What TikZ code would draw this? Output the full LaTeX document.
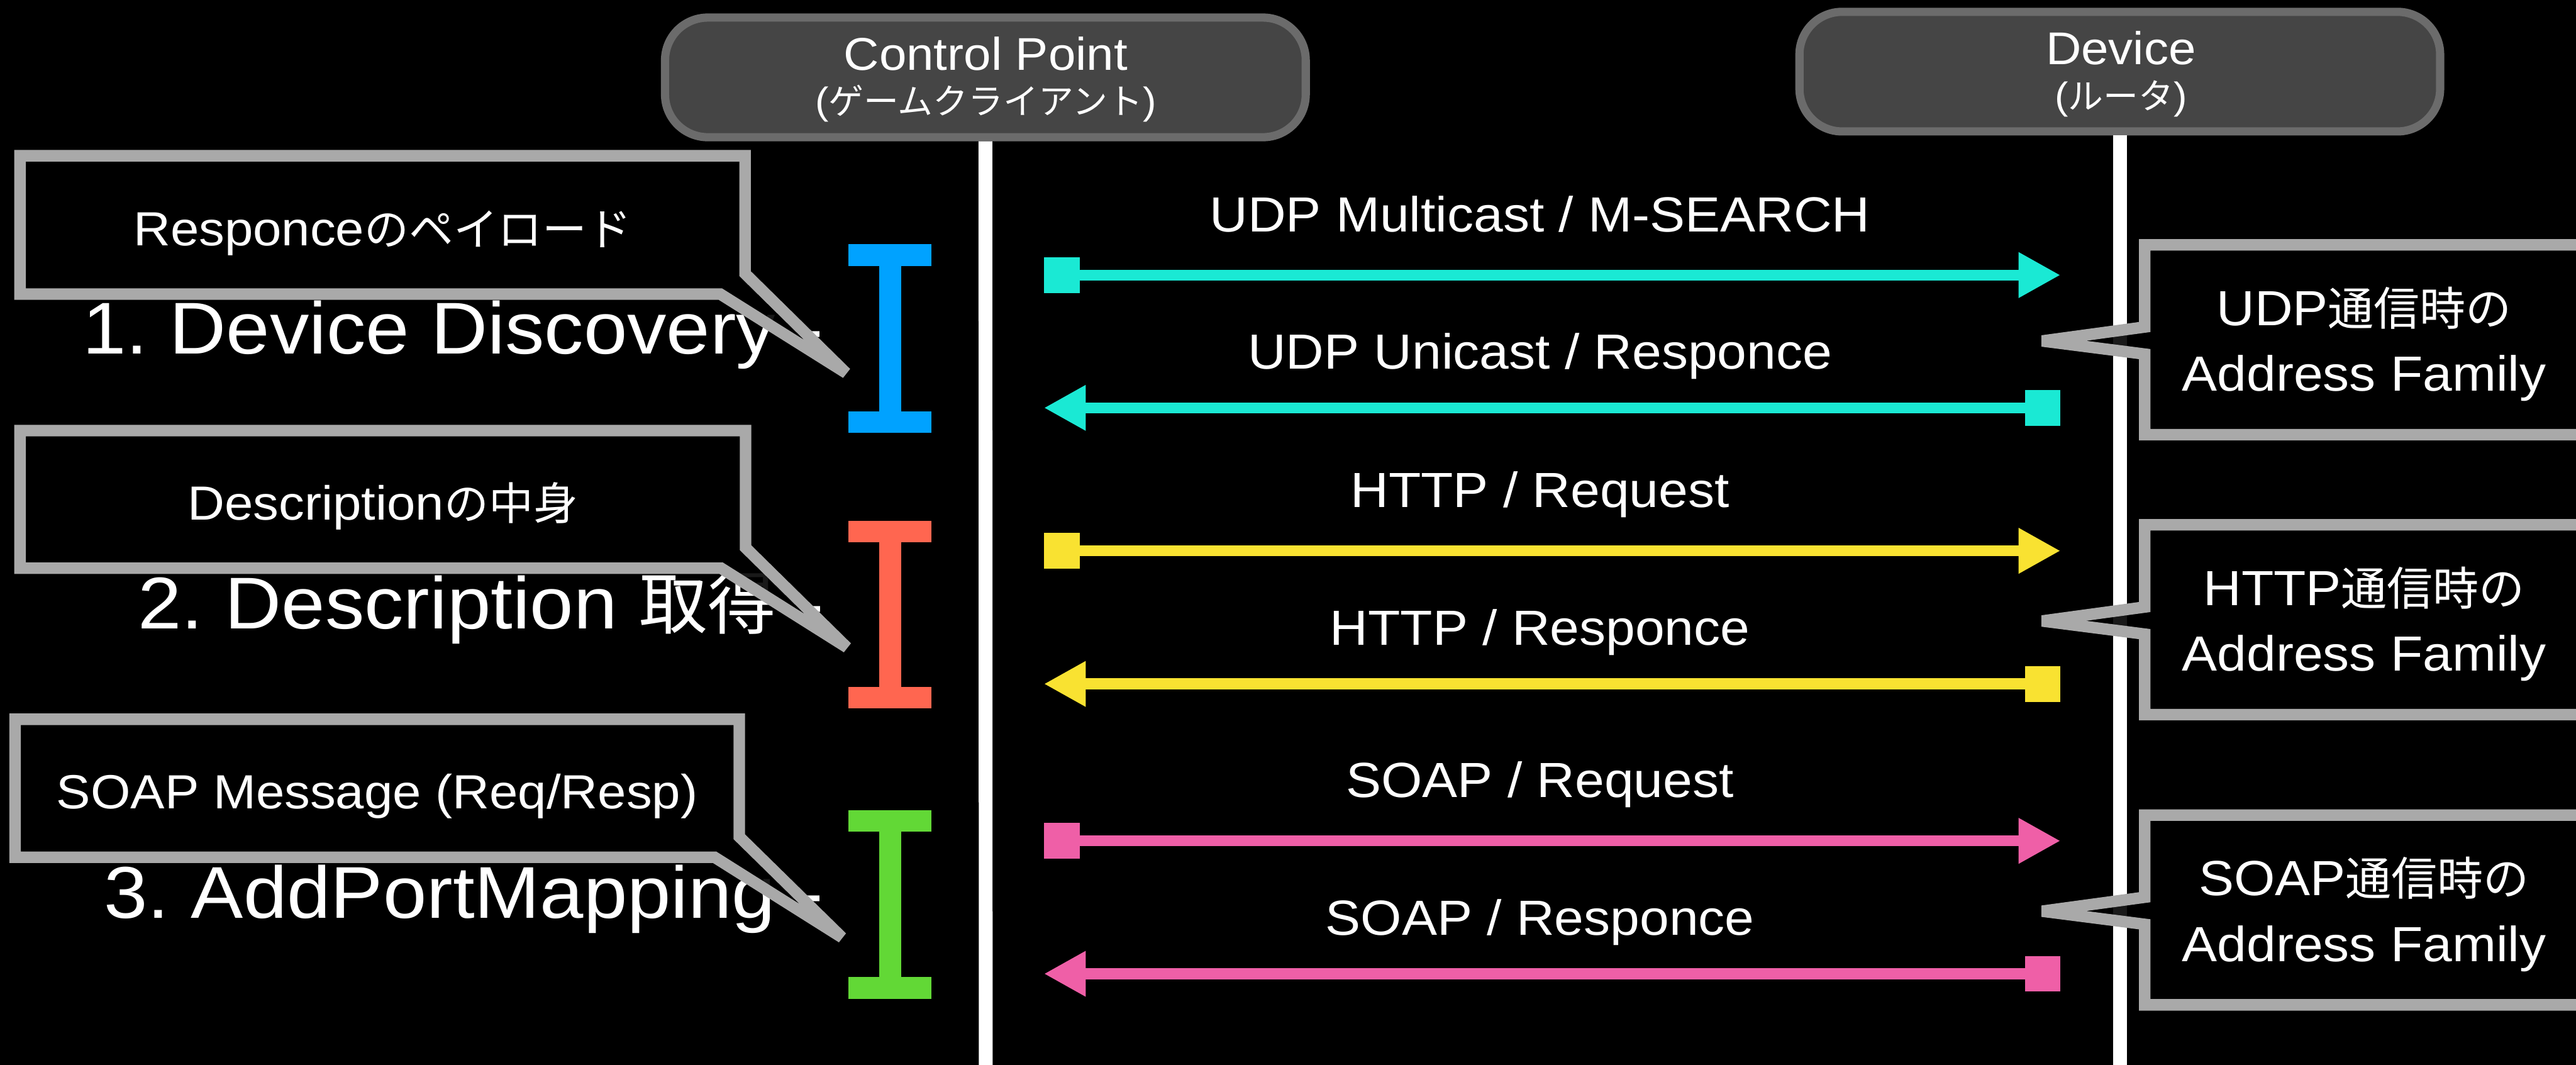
\documentclass[tikz,border=0pt]{standalone}
\usepackage{fontspec}
\setmainfont{Liberation Sans}[FakeStretch=1.07]
\newfontfamily\jp{Noto Sans CJK JP}[Scale=0.93]
\usepackage{tikz}
\usetikzlibrary{arrows.meta}
\frenchspacing
\definecolor{udpc}{RGB}{26,233,212}
\definecolor{httpc}{RGB}{249,226,49}
\definecolor{soapc}{RGB}{239,95,167}
\definecolor{stepa}{RGB}{0,162,255}
\definecolor{stepb}{RGB}{255,102,80}
\definecolor{stepc}{RGB}{98,216,54}
\definecolor{notegray}{RGB}{169,169,169}
\definecolor{boxline}{RGB}{107,107,107}
\definecolor{boxfill}{RGB}{69,69,69}

\begin{document}
\begin{tikzpicture}[x=0.2mm,y=-0.2mm,inner sep=0pt,text=white,miter limit=3,
                    msg/.style={draw=#1,line width=1.34mm,
                      arrows={Square[length=4.34mm,width=4.34mm]-Triangle[length=5.1mm,width=5.2mm]}},
                    ibeam/.style={draw=#1,line width=2.68mm,
                      arrows={Rectangle[length=2.64mm,width=10.12mm]-Rectangle[length=2.64mm,width=10.12mm]}}]
  \tikzstyle{actor}=[rectangle,draw=boxline,fill=boxfill,line width=1mm,
                     rounded corners=5.2mm,minimum width=78mm,minimum height=14.56mm]
  \tikzstyle{actorname}=[anchor=base,font=\fontsize{15.9}{19}\selectfont]
  \tikzstyle{actorsub}=[anchor=base,font=\fontsize{13.1}{16}\selectfont]
  \tikzstyle{lifeline}=[draw=white,line width=1.68mm]
  \tikzstyle{msglabel}=[anchor=base,font=\fontsize{17.1}{20}\selectfont]
  \tikzstyle{stagetext}=[anchor=base east,font=\fontsize{25.4}{30}\selectfont]
  \tikzstyle{note}=[draw=notegray,line width=1.4mm,fill=black,fill opacity=0.9]
  \tikzstyle{lnote}=[anchor=base,font=\fontsize{16.6}{20}\selectfont]
  \tikzstyle{rnote}=[anchor=base,font=\fontsize{17.1}{20}\selectfont]

  \path[use as bounding box,fill=black] (0,0) rectangle (1568,648);

  % actors and lifelines
  \node[actor] (cp)  at (599.8,47.1) {};
  \node[actor] (dev) at (1290.3,43.6) {};
  \node[actorname] (cpname)  at (600,42.5)  {Control Point};
  \node[actorsub]  (cpsub)   at (600,69.5)  {({\jp ゲームクライアント})};
  \node[actorname] (devname) at (1291,39.4) {Device};
  \node[actorsub]  (devsub)  at (1291,66.5) {({\jp ルータ})};
  \coordinate (cpend)  at (600,660);
  \coordinate (devend) at (1290.3,660);
  \draw[lifeline] (cp) -- (cpend);
  \draw[lifeline] (dev) -- (devend);

  % messages
  \foreach \i/\y in {1/167.4,2/248.2,3/335.2,4/416.2,5/511.7,6/592.6}{
    \coordinate (cp\i) at (635.4,\y);
    \coordinate (dv\i) at (1254.2,\y);
  }
  \path (cp1) edge[msg=udpc]  node[msglabel,pos=.488,yshift=5.28mm] (m1) {UDP Multicast / M-SEARCH} (dv1)
        (dv2) edge[msg=udpc]  node[msglabel,pos=.512,yshift=4.7mm]  (m2) {UDP Unicast / Responce} (cp2)
        (cp3) edge[msg=httpc] node[msglabel,pos=.488,yshift=5.28mm] (m3) {HTTP / Request} (dv3)
        (dv4) edge[msg=httpc] node[msglabel,pos=.512,yshift=4.7mm]  (m4) {HTTP / Responce} (cp4)
        (cp5) edge[msg=soapc] node[msglabel,pos=.488,yshift=5.28mm] (m5) {SOAP / Request} (dv5)
        (dv6) edge[msg=soapc] node[msglabel,pos=.512,yshift=4.7mm]  (m6) {SOAP / Responce} (cp6);

  % stages
  \node[stagetext] (st1) at (501.7,215.2) {1. Device Discovery -};
  \node[stagetext] (st2) at (501.7,382.7) {2. Description {\jp 取得} -};
  \node[stagetext] (st3) at (501.7,558.8) {3. AddPortMapping -};
  \coordinate (b1t) at (541.8,148.7); \coordinate (b1b) at (541.8,263.5);
  \coordinate (b2t) at (541.8,316.8); \coordinate (b2b) at (541.8,431.2);
  \coordinate (b3t) at (541.8,493);   \coordinate (b3b) at (541.8,607.8);
  \draw[ibeam=stepa] (b1t) -- (b1b);
  \draw[ibeam=stepb] (b2t) -- (b2b);
  \draw[ibeam=stepc] (b3t) -- (b3b);

  % callouts on the left
  \draw[note] (12.2,94.8) -- (453.5,94.8) -- (453.5,166.5) -- (515,227)
              -- (438.5,179) -- (12.2,179) -- cycle;
  \node[lnote] (payload) at (232.9,149.4) {Responce{\jp のペイロード}};
  \draw[note] (12.2,262) -- (453.8,262) -- (453.8,333.3) -- (515.5,394)
              -- (439,345.8) -- (12.2,345.8) -- cycle;
  \node[lnote] (descbody) at (233,316.4) {Description{\jp の中身}};
  \draw[note] (9.2,437.7) -- (450,437.7) -- (450,509.2) -- (512.5,570.5)
              -- (435,521.7) -- (9.2,521.7) -- cycle;
  \node[lnote] (soapmsg) at (229.6,492) {SOAP Message (Req/Resp)};

  % callouts on the right
  \foreach \p/\y in {UDP/149,HTTP/319.4,SOAP/496}{
    \draw[note] (1305.5,\y) -- (1580,\y) -- (1580,\y+115.5) -- (1305.5,\y+115.5)
                -- (1305.5,\y+66.5) -- (1243,\y+58.5) -- (1305.5,\y+50) -- cycle;
    \node[rnote] (note\p) at (1439,\y+49) {\p{\jp 通信時の}};
    \node[rnote] (fam\p)  at (1439,\y+89) {Address Family};
  }
\end{tikzpicture}
\end{document}
